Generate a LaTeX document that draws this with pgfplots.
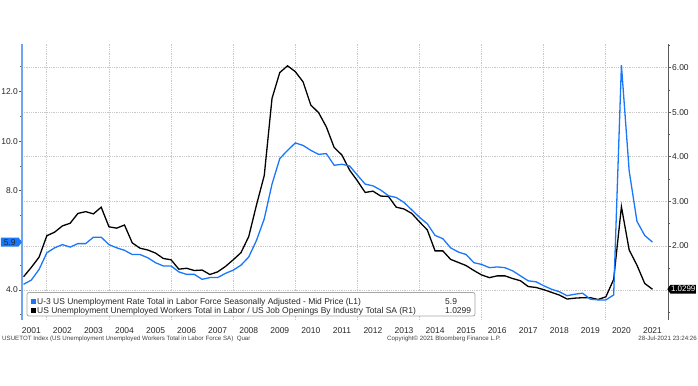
\documentclass[border=0pt]{standalone}
\usepackage{fontspec}
\setmainfont{Liberation Sans}
\usepackage{pgfplots}
\usepackage{pgfplotstable}
\pgfplotsset{compat=1.18}
\usetikzlibrary{shapes.symbols}
\definecolor{bblue}{RGB}{25,120,250}
\definecolor{axblue}{RGB}{110,165,240}
\definecolor{gridgray}{RGB}{200,200,200}
\definecolor{axgray}{RGB}{90,90,90}

\pgfplotstableread{
x y
2001.25 4.23
2001.50 4.40
2001.75 4.83
2002.00 5.50
2002.25 5.70
2002.50 5.83
2002.75 5.73
2003.00 5.87
2003.25 5.87
2003.50 6.13
2003.75 6.13
2004.00 5.83
2004.25 5.70
2004.50 5.60
2004.75 5.43
2005.00 5.43
2005.25 5.30
2005.50 5.10
2005.75 4.97
2006.00 4.97
2006.25 4.73
2006.50 4.63
2006.75 4.63
2007.00 4.43
2007.25 4.50
2007.50 4.50
2007.75 4.67
2008.00 4.80
2008.25 5.00
2008.50 5.33
2008.75 6.00
2009.00 6.87
2009.25 8.27
2009.50 9.30
2009.75 9.63
2010.00 9.93
2010.25 9.83
2010.50 9.63
2010.75 9.47
2011.00 9.50
2011.25 9.03
2011.50 9.07
2011.75 9.00
2012.00 8.63
2012.25 8.27
2012.50 8.20
2012.75 8.03
2013.00 7.80
2013.25 7.73
2013.50 7.53
2013.75 7.23
2014.00 6.93
2014.25 6.67
2014.50 6.20
2014.75 6.07
2015.00 5.70
2015.25 5.53
2015.50 5.43
2015.75 5.10
2016.00 5.03
2016.25 4.90
2016.50 4.93
2016.75 4.90
2017.00 4.77
2017.25 4.57
2017.50 4.37
2017.75 4.33
2018.00 4.17
2018.25 4.03
2018.50 3.93
2018.75 3.77
2019.00 3.83
2019.25 3.87
2019.50 3.63
2019.75 3.60
2020.00 3.60
2020.25 3.80
2020.50 13.07
2020.75 8.80
2021.00 6.77
2021.25 6.20
2021.50 5.93
}\unemp

\pgfplotstableread{
x y
2001.25 1.31
2001.50 1.52
2001.75 1.75
2002.00 2.23
2002.25 2.31
2002.50 2.45
2002.75 2.51
2003.00 2.73
2003.25 2.77
2003.50 2.72
2003.75 2.87
2004.00 2.43
2004.25 2.40
2004.50 2.47
2004.75 2.07
2005.00 1.95
2005.25 1.91
2005.50 1.84
2005.75 1.72
2006.00 1.69
2006.25 1.48
2006.50 1.50
2006.75 1.45
2007.00 1.46
2007.25 1.36
2007.50 1.42
2007.75 1.54
2008.00 1.69
2008.25 1.85
2008.50 2.21
2008.75 2.92
2009.00 3.58
2009.25 5.31
2009.50 5.89
2009.75 6.04
2010.00 5.91
2010.25 5.68
2010.50 5.16
2010.75 4.99
2011.00 4.67
2011.25 4.21
2011.50 4.04
2011.75 3.70
2012.00 3.46
2012.25 3.20
2012.50 3.23
2012.75 3.12
2013.00 3.11
2013.25 2.87
2013.50 2.83
2013.75 2.73
2014.00 2.54
2014.25 2.36
2014.50 1.89
2014.75 1.89
2015.00 1.70
2015.25 1.63
2015.50 1.56
2015.75 1.45
2016.00 1.35
2016.25 1.29
2016.50 1.33
2016.75 1.33
2017.00 1.27
2017.25 1.22
2017.50 1.09
2017.75 1.07
2018.00 1.02
2018.25 0.96
2018.50 0.90
2018.75 0.81
2019.00 0.83
2019.25 0.84
2019.50 0.84
2019.75 0.80
2020.00 0.86
2020.25 1.25
2020.50 2.88
2020.75 1.91
2021.00 1.57
2021.25 1.16
2021.50 1.0299
}\ratio

\begin{document}
\begin{tikzpicture}
\path[use as bounding box] (0bp,0bp) rectangle (698bp,386bp);

% right axis (R1)
\begin{axis}[
  at={(22bp,66bp)}, anchor=south west,
  scale only axis, width=646bp, height=276bp,
  xmin=2001.2, xmax=2022, ymin=0.34, ymax=6.53,
  clip=false,
  axis x line*=bottom, axis y line*=right,
  x axis line style={draw=none},
  y axis line style={draw=axgray, line width=0.8bp, -},
  xtick={2002,2004,2006,2008,2010,2012,2014,2016,2018,2020},
  xticklabels={},
  major x tick style={draw=none},
  xmajorgrids, ymajorgrids,
  grid style={gridgray, line width=0.9bp, dash pattern=on 0.9bp off 0.9bp},
  ytick={1,2,3,4,5,6},
  yticklabels={,2.00,3.00,4.00,5.00,6.00},
  minor ytick={0.5,1.5,2.5,3.5,4.5,5.5,6.5},
  tick align=outside, major tick length=3bp, minor tick length=2bp,
  ytick style={axgray, line width=0.8bp},
  yticklabel style={font=\fontsize{8.5}{10}\selectfont, text=black!85, inner sep=1bp},
  /pgf/number format/assume math mode=true,
]
\addplot[black, line width=1.3bp] table {\ratio};
\node[signal, signal to=west, signal pointer angle=110, fill=black, text=white,
      inner xsep=0.6bp, inner ysep=1.6bp,
      font=\fontsize{8}{9}\selectfont, anchor=west] at (axis cs:2021.97,1.0299) {1.0299};
\end{axis}

% left axis (L1)
\begin{axis}[
  at={(22bp,66bp)}, anchor=south west,
  scale only axis, width=646bp, height=276bp,
  xmin=2001.2, xmax=2022, ymin=2.79, ymax=13.92,
  clip=false,
  axis x line*=bottom, axis y line*=left,
  x axis line style={draw=none},
  y axis line style={draw=axblue, line width=1.2bp, -},
  xtick={2001.5,2002.5,2003.5,2004.5,2005.5,2006.5,2007.5,2008.5,2009.5,2010.5,2011.5,2012.5,2013.5,2014.5,2015.5,2016.5,2017.5,2018.5,2019.5,2020.5,2021.5},
  xticklabels={2001,2002,2003,2004,2005,2006,2007,2008,2009,2010,2011,2012,2013,2014,2015,2016,2017,2018,2019,2020,2021},
  major x tick style={draw=none},
  xticklabel style={font=\fontsize{8.5}{10}\selectfont, text=black!85, anchor=base, yshift=-10bp},
  ytick={4,6,8,10,12},
  yticklabels={4.0,,8.0,10.0,12.0},
  minor ytick={3,5,7,9,11,13},
  tick align=outside, major tick length=3bp, minor tick length=2bp,
  ytick style={axgray, line width=0.8bp},
  yticklabel style={font=\fontsize{8.5}{10}\selectfont, text=black!85, inner sep=1bp},
  /pgf/number format/assume math mode=true,
]
\addplot[bblue, line width=1.3bp] table {\unemp};
\node[signal, signal to=east, signal pointer angle=110, fill=bblue, text=black!85,
      inner xsep=3bp, inner ysep=1.6bp,
      font=\fontsize{8.5}{10}\selectfont, anchor=east] at (axis cs:2001.2,5.93) {5.9};
\end{axis}

% legend
\draw[gray!70, fill=white, rounded corners=2bp, line width=0.8bp] (27bp,70bp) rectangle (475bp,93.5bp);
\fill[bblue] (30.5bp,81.5bp) rectangle ++(5bp,5bp);
\fill[black] (30.5bp,72.5bp) rectangle ++(5bp,5bp);
\begin{scope}[every node/.style={inner sep=0, anchor=base west, font=\fontsize{8.5}{9}\selectfont, text=black!85}]
\node at (37bp,81.5bp) {U-3 US Unemployment Rate Total in Labor Force Seasonally Adjusted - Mid Price (L1)};
\node at (37bp,72.5bp) {US Unemployment Unemployed Workers Total in Labor / US Job Openings By Industry Total SA (R1)};
\node at (445bp,81.5bp) {5.9};
\node at (445bp,72.5bp) {1.0299};
\end{scope}

% footer
\begin{scope}[every node/.style={inner sep=0, font=\fontsize{6.2}{7}\selectfont, text=black!75}]
\node[anchor=base west] at (2bp,45bp) {USUETOT Index (US Unemployment Unemployed Workers Total in Labor Force SA)\ \ Quar};
\node[anchor=base] at (444bp,45bp) {Copyright\textcopyright{} 2021 Bloomberg Finance L.P.};
\node[anchor=base east] at (697bp,45bp) {28-Jul-2021 23:24:26};
\end{scope}
\end{tikzpicture}
\end{document}
